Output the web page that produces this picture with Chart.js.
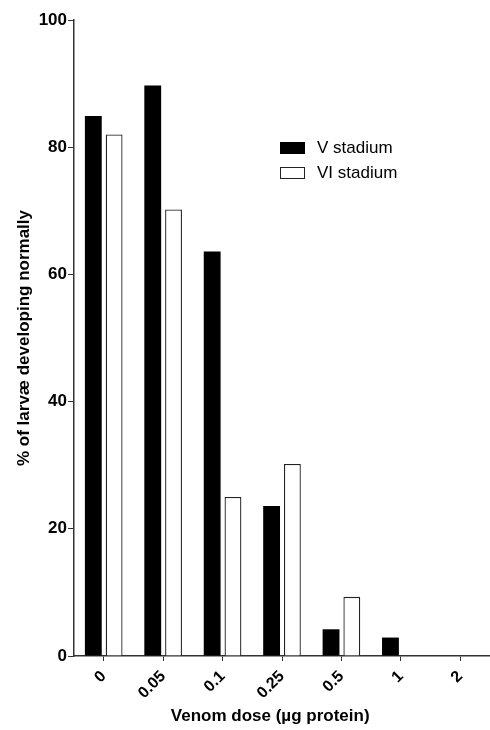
<!DOCTYPE html>
<html>
<head>
<meta charset="utf-8">
<script src="https://cdn.jsdelivr.net/npm/chart.js@4.4.0/dist/chart.umd.min.js"></script>
<style>
  html, body { margin: 0; padding: 0; background: #fff; }
  #wrap { width: 490px; height: 730px; }
</style>
</head>
<body>
<div id="wrap"><canvas id="venomChart" width="490" height="730"></canvas></div>
<script>
// data
const doses = ['0', '0.05', '0.1', '0.25', '0.5', '1', '2'];
const stadiumV = [84.9, 89.7, 63.6, 23.6, 4.2, 2.9, 0];
const stadiumVI = [82.0, 70.2, 25.0, 30.2, 9.3, 0, 0];
const yTicks = [0, 20, 40, 60, 80, 100];
const seriesNames = ['V stadium', 'VI stadium'];

const FONT = "'Liberation Sans', Arial, sans-serif";
const AXIS = '#333';

// small legend drawn inside the plot, like the original figure
const insideLegend = {
  id: 'insideLegend',
  afterDraw(chart) {
    const ctx = chart.ctx;
    ctx.save();
    chart.data.datasets.forEach((ds, i) => {
      const x = 280, y = 142 + i * 25;
      ctx.fillStyle = ds.backgroundColor;
      ctx.fillRect(x, y, 25, 12);
      if (ds.borderWidth) {
        ctx.strokeStyle = ds.borderColor;
        ctx.lineWidth = 1;
        ctx.strokeRect(x + 0.5, y + 0.5, 24, 11);
      }
      ctx.fillStyle = '#000';
      ctx.font = '17px ' + FONT;
      ctx.textBaseline = 'middle';
      ctx.fillText(ds.label, 317, y + 6.5);
    });
    ctx.restore();
  }
};

new Chart(document.getElementById('venomChart'), {
  type: 'bar',
  data: {
    labels: doses,
    datasets: [
      {
        label: seriesNames[0],
        data: stadiumV,
        backgroundColor: '#000',
        borderWidth: 0,
      },
      {
        label: seriesNames[1],
        data: stadiumVI,
        backgroundColor: '#fff',
        borderColor: '#222',
        borderWidth: 1.3,
      }
    ]
  },
  options: {
    responsive: false,
    animation: false,
    devicePixelRatio: 1,
    categoryPercentage: 0.70,
    barPercentage: 0.81,
    layout: { padding: { left: 0, right: 0, top: 20, bottom: 0 } },
    plugins: {
      legend: { display: false },
      tooltip: { enabled: false },
    },
    scales: {
      x: {
        offset: true,
        grid: { drawOnChartArea: false, offset: false, tickLength: 5, color: AXIS, lineWidth: 1 },
        border: { color: AXIS, width: 1.5 },
        ticks: {
          color: '#000',
          maxRotation: 45,
          minRotation: 45,
          padding: 6,
          font: { family: FONT, size: 16, weight: 'bold' },
        },
        title: {
          display: true,
          // trailing spaces nudge the centred title left, as in the source figure
          text: 'Venom dose (µg protein)\u00a0\u00a0\u00a0\u00a0\u00a0',
          color: '#000',
          font: { family: FONT, size: 17, weight: 'bold' },
          padding: { top: 0, bottom: 3 },
        },
        afterFit: s => { s.height = 74; },
      },
      y: {
        min: 0,
        max: 100,
        afterBuildTicks: s => { s.ticks = yTicks.map(v => ({ value: v })); },
        grid: { drawOnChartArea: false, tickLength: 6, color: AXIS, lineWidth: 1 },
        border: { color: AXIS, width: 1.5 },
        ticks: {
          color: '#000',
          padding: 1,
          font: { family: FONT, size: 17, weight: 'bold' },
        },
        title: {
          display: true,
          text: '% of larvæ developing normally',
          color: '#000',
          font: { family: FONT, size: 17, weight: 'bold' },
          padding: { top: 14, bottom: 0 },
        },
        afterFit: s => { s.width = 74; },
      }
    }
  },
  plugins: [insideLegend]
});
</script>
</body>
</html>
